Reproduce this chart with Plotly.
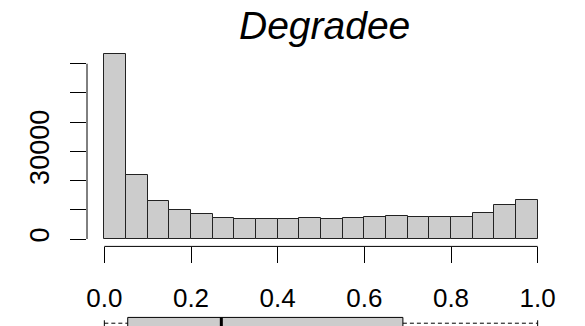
import plotly.graph_objects as go

# ---- data ----
bin_edges = [round(i * 0.05, 2) for i in range(21)]
counts = [63200, 21800, 12900, 9850, 8450, 7300, 6750, 6750, 6850, 7050,
          6750, 7200, 7550, 7750, 7550, 7450, 7650, 8800, 11550, 13250]
y_tickvals = [0, 10000, 20000, 30000, 40000, 50000, 60000]
y_ticktext = ["0", "", "", "30000", "", "", ""]
x_tickvals = [0.0, 0.2, 0.4, 0.6, 0.8, 1.0]
x_ticktext = ["0.0", "0.2", "0.4", "0.6", "0.8", "1.0"]
# five-number summary for the boxplot (whisker low, Q1, median, Q3, whisker high)
box_stats = [0.0, 0.054, 0.27, 0.689, 1.0]
title_text = "Degradee"

FONT = "Liberation Sans"
BAR_FILL = "#CCCCCC"

centers = [(bin_edges[i] + bin_edges[i + 1]) / 2 for i in range(len(counts))]
widths = [bin_edges[i + 1] - bin_edges[i] for i in range(len(counts))]

M = max(counts)
yr = [-0.04 * M, 1.04 * M]
xr = [bin_edges[0] - 0.04 * (bin_edges[-1] - bin_edges[0]),
      bin_edges[-1] + 0.04 * (bin_edges[-1] - bin_edges[0])]

fig = go.Figure()
fig.add_trace(go.Bar(
    x=centers, y=counts, width=widths,
    marker=dict(color=BAR_FILL, line=dict(color="#222222", width=1)),
    xaxis="x", yaxis="y", showlegend=False, hoverinfo="skip"))

# boxplot (horizontal), partially cut off at the bottom
lo, q1, med, q3, hi = box_stats
h = 0.83   # box half-height (axis units of yaxis2)
s = 0.42   # staple half-length
fig.add_trace(go.Scatter(
    x=[q1, q3, q3, q1, q1], y=[-h, -h, h, h, -h], mode="lines",
    fill="toself", fillcolor=BAR_FILL, line=dict(color="black", width=1),
    xaxis="x2", yaxis="y2", showlegend=False, hoverinfo="skip"))
fig.add_trace(go.Scatter(
    x=[med, med], y=[-h, h], mode="lines", line=dict(color="black", width=3),
    xaxis="x2", yaxis="y2", showlegend=False, hoverinfo="skip"))
for a, b in [(lo, q1), (q3, hi)]:
    fig.add_trace(go.Scatter(
        x=[a, b], y=[0, 0], mode="lines",
        line=dict(color="black", width=1, dash="4px,3px"),
        xaxis="x2", yaxis="y2", showlegend=False, hoverinfo="skip"))
for v in [lo, hi]:
    fig.add_trace(go.Scatter(
        x=[v, v], y=[-s, s], mode="lines", line=dict(color="black", width=1),
        xaxis="x2", yaxis="y2", showlegend=False, hoverinfo="skip"))

# axis lines limited to tick range (R style)
fig.add_shape(type="line", xref="x domain", yref="y",
              x0=0, x1=0, y0=y_tickvals[0], y1=y_tickvals[-1],
              line=dict(color="black", width=1))
fig.add_shape(type="line", xref="x", yref="y domain",
              x0=x_tickvals[0], x1=x_tickvals[-1], y0=0, y1=0,
              line=dict(color="black", width=1))

fig.update_layout(
    width=585, height=326,
    margin=dict(l=87, r=30, t=47, b=0, autoexpand=False),
    paper_bgcolor="white", plot_bgcolor="white",
    bargap=0,
    font=dict(family=FONT, color="black"),
    xaxis=dict(domain=[0, 1], range=xr, anchor="y",
               tickvals=x_tickvals, ticktext=x_ticktext,
               ticks="outside", ticklen=16, tickwidth=1, tickcolor="black",
               showline=False, showgrid=False, zeroline=False,
               tickfont=dict(size=26, family=FONT),
               ticklabelstandoff=12),
    yaxis=dict(domain=[0.2853, 1], range=yr, anchor="x",
               tickvals=y_tickvals, ticktext=y_ticktext, tickangle=-90,
               ticks="outside", ticklen=16, tickwidth=1, tickcolor="black",
               showline=False, showgrid=False, zeroline=False,
               tickfont=dict(size=27, family=FONT),
               ticklabelstandoff=10),
    xaxis2=dict(domain=[0, 1], range=xr, anchor="y2", matches="x",
                visible=False),
    yaxis2=dict(domain=[0, 0.05], range=[-0.4, 1.6], anchor="x2",
                visible=False),
)

fig.add_annotation(text="<i>" + title_text + "</i>", xref="paper", yref="paper",
                   x=0.508, y=1.0, xanchor="center", yanchor="bottom",
                   yshift=-2, showarrow=False,
                   font=dict(size=39, family=FONT, color="black"))

fig.write_html("out.html")
